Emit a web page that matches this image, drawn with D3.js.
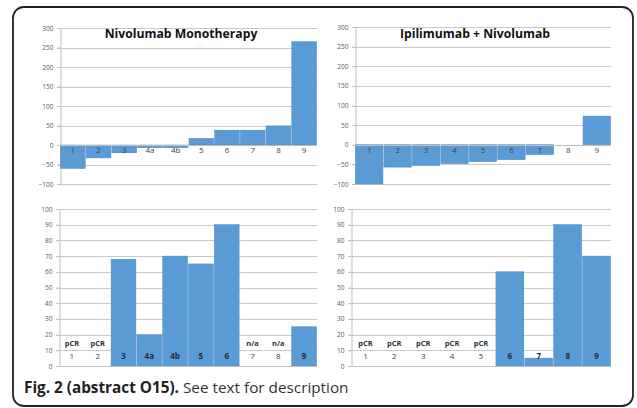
<!DOCTYPE html>
<html><head><meta charset="utf-8">
<script src="https://cdn.jsdelivr.net/npm/d3@7"></script>
<style>body{margin:0;background:#fff;}svg{display:block;}</style>
</head><body>
<svg id="c" width="637" height="408"></svg>
<script>
// ---- data ----
const monoCats = ["1","2","3","4a","4b","5","6","7","8","9"];
const monoChange = [-60,-33,-20,-7,-7,17,38,38,49,265];
const comboCats = ["1","2","3","4","5","6","7","8","9"];
const comboChange = [-100,-57,-53,-48,-43,-38,-25,0,73];
const monoViable = [0,0,68,20,70,65,90,0,0,25];
const monoViableNotes = ["pCR","pCR","","","","","","n/a","n/a",""];
const comboViable = [0,0,0,0,0,60,5,90,70];
const comboViableNotes = ["pCR","pCR","pCR","pCR","pCR","","","",""];
const topTicks = [-100,-50,0,50,100,150,200,250,300];
const bottomTicks = [0,10,20,30,40,50,60,70,80,90,100];
const titles = ["Nivolumab Monotherapy","Ipilimumab + Nivolumab"];

const svg = d3.select("#c");
const blue = "#5b9bd5";
const grid = "#c9c9c9";

// frame
svg.append("rect").attr("x",13).attr("y",7).attr("width",620).attr("height",399)
  .attr("rx",11).attr("fill","#fff").attr("stroke","#222").attr("stroke-width",1.8);

function panel(opts){
  const {x0,x1,y0,y1,domain,ticks,cats,vals,notes,title,labelY,noteY} = opts;
  const g = svg.append("g");
  const x = d3.scaleBand().domain(cats).range([x0,x1]).padding(0);
  const y = d3.scaleLinear().domain(domain).range([y1,y0]);
  g.selectAll("line.grid").data(ticks).join("line")
    .attr("x1",x0-3).attr("x2",x1).attr("y1",d=>Math.round(y(d))+0.5).attr("y2",d=>Math.round(y(d))+0.5)
    .attr("stroke",grid).attr("stroke-width",1);
  const ax = d3.axisLeft(y).tickValues(ticks).tickSize(3).tickPadding(4);
  const ag = g.append("g").attr("transform",`translate(${x0+0.5},0)`).call(ax);
  ag.select(".domain").attr("stroke","#bfbfbf");
  ag.selectAll(".tick line").attr("stroke","#bfbfbf");
  ag.selectAll("text").attr("font-family","Open Sans, sans-serif").attr("font-size",6.5).attr("fill","#595959");
  g.selectAll("rect.bar").data(vals).join("rect")
    .attr("x",(d,i)=>x(cats[i])+0.5).attr("width",x.bandwidth()-1)
    .attr("y",d=>y(Math.max(0,d))).attr("height",d=>Math.abs(y(d)-y(0)))
    .attr("fill",blue).attr("stroke","#4a86c0").attr("stroke-width",0.5);
  g.append("line").attr("x1",x0).attr("x2",x1).attr("y1",Math.round(y(0))+0.5).attr("y2",Math.round(y(0))+0.5)
    .attr("stroke","#bfbfbf");
  g.selectAll("text.cat").data(cats).join("text")
    .attr("x",d=>x(d)+x.bandwidth()/2).attr("y",y(labelY))
    .attr("text-anchor","middle").attr("dominant-baseline","middle")
    .attr("font-family","Open Sans, sans-serif").attr("font-size",8)
    .attr("font-weight",(d,i)=>vals[i]!==0&&opts.boldOnBar?"bold":"normal")
    .attr("fill",(d,i)=>vals[i]!==0&&opts.boldOnBar?"#1f2d40":"#404040")
    .text(d=>d);
  if(notes){
    g.selectAll("text.note").data(notes).join("text")
      .attr("x",(d,i)=>x(cats[i])+x.bandwidth()/2).attr("y",y(noteY))
      .attr("text-anchor","middle").attr("dominant-baseline","middle")
      .attr("font-family","Open Sans, sans-serif").attr("font-size",7.5).attr("font-weight","bold")
      .attr("fill","#333").text(d=>d);
  }
  if(title){
    g.append("text").attr("x",title.x).attr("y",title.y).attr("text-anchor","middle")
      .attr("font-family","Open Sans, sans-serif").attr("font-size",12.2).attr("font-weight","bold")
      .attr("fill","#111").text(title.t);
  }
}

panel({x0:60,x1:317,y0:28,y1:184,domain:[-100,300],ticks:topTicks,cats:monoCats,vals:monoChange,
  labelY:-15,title:{x:181,y:38,t:titles[0]}});
panel({x0:355,x1:611,y0:27,y1:184,domain:[-100,300],ticks:topTicks,cats:comboCats,vals:comboChange,
  labelY:-15,title:{x:475,y:38,t:titles[1]}});
panel({x0:59,x1:317,y0:209,y1:366,domain:[0,100],ticks:bottomTicks,cats:monoCats,vals:monoViable,
  notes:monoViableNotes,labelY:6,noteY:14,boldOnBar:true});
panel({x0:351,x1:611,y0:209,y1:366,domain:[0,100],ticks:bottomTicks,cats:comboCats,vals:comboViable,
  notes:comboViableNotes,labelY:6,noteY:14,boldOnBar:true});

const cap = svg.append("text").attr("x",24).attr("y",393)
  .attr("font-family","Open Sans, sans-serif").attr("font-size",15.3).attr("fill","#333");
cap.append("tspan").attr("font-weight","bold").attr("fill","#222").text("Fig. 2 (abstract O15).");
cap.append("tspan").text(" See text for description");
</script>
</body></html>
